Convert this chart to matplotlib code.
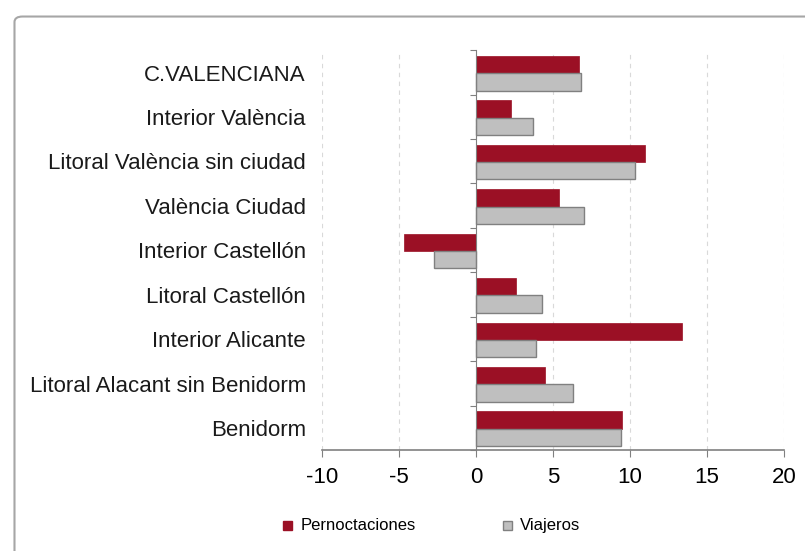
import matplotlib.pyplot as plt
import matplotlib.transforms as mtransforms
from matplotlib.patches import Rectangle, FancyBboxPatch

plt.rcParams['font.family'] = ['Liberation Sans', 'DejaVu Sans']

zonas = ['C.VALENCIANA', 'Interior València', 'Litoral València sin ciudad',
         'València Ciudad', 'Interior Castellón', 'Litoral Castellón',
         'Interior Alicante', 'Litoral Alacant sin Benidorm', 'Benidorm']
pernoctaciones = [6.7, 2.3, 11.0, 5.4, -4.7, 2.6, 13.4, 4.5, 9.5]
viajeros = [6.8, 3.7, 10.3, 7.0, -2.7, 4.3, 3.9, 6.3, 9.4]
xticks = [-10, -5, 0, 5, 10, 15, 20]

rojo = '#9b1025'
gris = '#bfbfbf'

fig = plt.figure(figsize=(8.05, 5.51), dpi=100)
# marco del grafico
fig.patches.append(FancyBboxPatch((0.018, -0.05), 1.2, 1.02, boxstyle='round,pad=0,rounding_size=0.01',
                                  transform=fig.transFigure, fill=False, edgecolor='#a6a6a6', linewidth=1.5))

ax = fig.add_axes([0.4, 0.183, 0.574, 0.726])
pos = list(range(len(zonas)))
h = 0.39
ax.barh([p - h / 2 + 0.02 for p in pos], pernoctaciones, height=h, color=rojo, edgecolor=rojo, linewidth=0.5, zorder=3)
ax.barh([p + h / 2 + 0.02 for p in pos], viajeros, height=h, color=gris, edgecolor='#808080', linewidth=1, zorder=3)

ax.set_xlim(-10, 20)
ax.set_ylim(len(zonas) - 0.5, -0.5)
ax.set_xticks(xticks)
ax.set_xticklabels([str(v) for v in xticks], fontsize=16)
ax.tick_params(axis='x', length=5, color='#808080', pad=7)
ax.grid(axis='x', linestyle=(0, (4, 4)), color='#d9d9d9', linewidth=0.8, zorder=0)

ax.set_yticks([p - 0.5 for p in pos] + [len(zonas) - 0.5])
ax.set_yticklabels([])
ax.tick_params(axis='y', length=4, color='#808080')
ax.spines['left'].set_position(('data', 0))
ax.spines['left'].set_color('#808080')
ax.spines['left'].set_zorder(4)
ax.spines['bottom'].set_color('#808080')
ax.spines['bottom'].set_linewidth(1.2)
ax.spines['top'].set_visible(False)
ax.spines['right'].set_visible(False)

trans = mtransforms.blended_transform_factory(ax.transAxes, ax.transData)
for p, z in zip(pos, zonas):
    ax.text(-0.035, p + 0.06, z, transform=trans, ha='right', va='center', fontsize=16, color='#1a1a1a')

# leyenda
fig.patches.append(Rectangle((0.352, 0.039), 0.011, 0.016, transform=fig.transFigure,
                             facecolor=rojo, edgecolor=rojo))
fig.text(0.373, 0.047, 'Pernoctaciones', fontsize=12, va='center', ha='left')
fig.patches.append(Rectangle((0.625, 0.039), 0.011, 0.016, transform=fig.transFigure,
                             facecolor=gris, edgecolor='#808080'))
fig.text(0.646, 0.047, 'Viajeros', fontsize=12, va='center', ha='left')

plt.savefig('out.png', dpi=100)
